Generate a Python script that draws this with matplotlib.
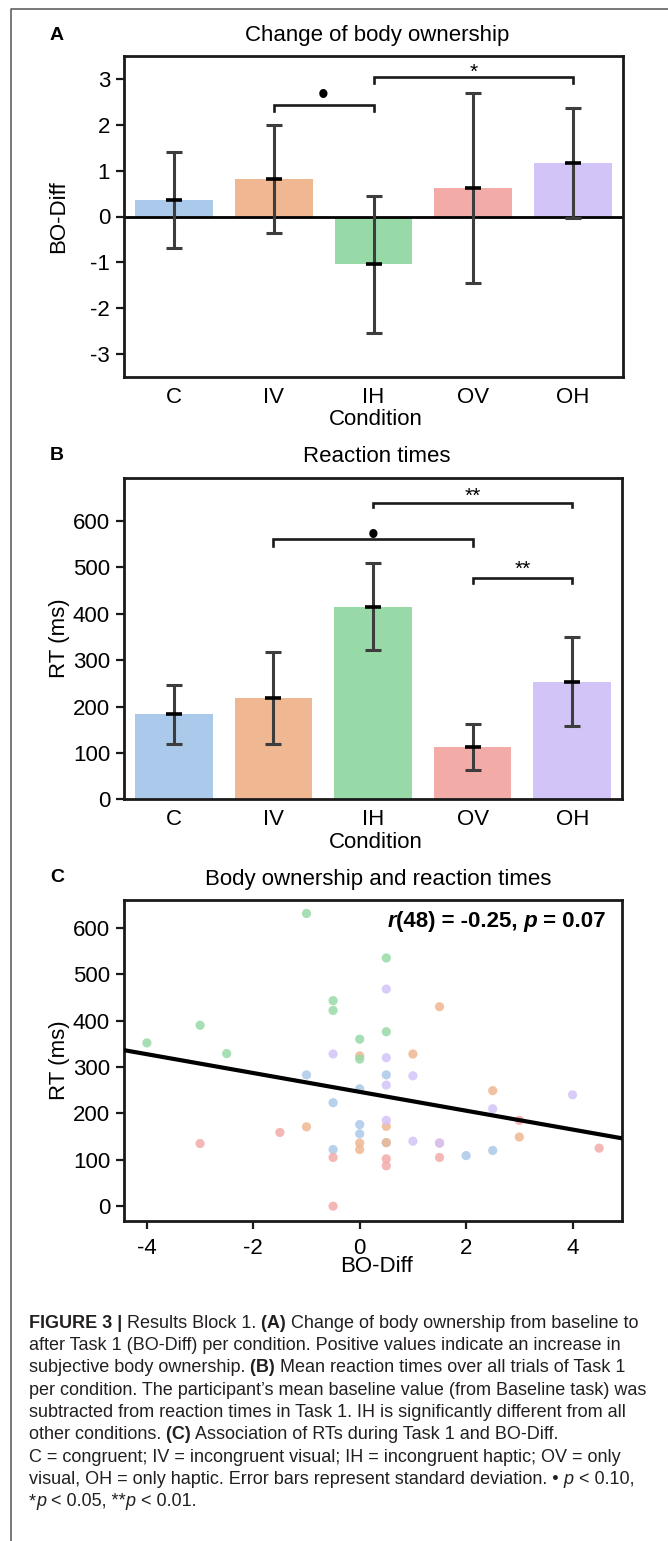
import numpy as np
import matplotlib
matplotlib.use('Agg')
import matplotlib.pyplot as plt
from matplotlib.lines import Line2D
from matplotlib.transforms import offset_copy
import colorsys

W, H, DPI = 668, 1541, 100
FAM = ['Liberation Sans', 'DejaVu Sans']
plt.rcParams['font.family'] = FAM
plt.rcParams['axes.unicode_minus'] = False

# ---------------- data ----------------
conditions = ['C', 'IV', 'IH', 'OV', 'OH']
bo_mean = [0.36, 0.81, -1.04, 0.62, 1.16]
bo_sd = [1.04, 1.18, 1.49, 2.06, 1.20]
rt_mean = [183, 219, 415, 113, 254]
rt_sd = [64, 99, 94, 49, 95]

# significance brackets: (from index, to index, height, leg length, label)
sig_bo = [(1, 2, 2.42, 0.13, '•'), (2, 4, 3.04, 0.13, '*')]
sig_rt = [(2, 4, 640, 9.5, '**'), (1, 3, 562, 16, '•'), (3, 4, 477, 10, '**')]
# vertical offset (pixels) of the label above its bracket
sig_bo_off = [12.5, 11.5]
sig_rt_off = [13.0, 5.5, 15.0]

# scatter (BO-Diff, RT) per condition
sc_C_bo = [-1, -0.5, -0.5, 0, 0, 0, 0.5, 0.5, 2, 2.5]
sc_C_rt = [283, 223, 122, 253, 176, 156, 283, 137, 109, 120]
sc_IV_bo = [-1, 0, 0, 0, 0.5, 0.5, 1, 1.5, 2.5, 3]
sc_IV_rt = [171, 324, 136, 122, 172, 137, 328, 430, 249, 149]
sc_IH_bo = [-4, -3, -2.5, -1, -0.5, -0.5, 0, 0, 0.5, 0.5]
sc_IH_rt = [352, 390, 329, 631, 443, 422, 360, 317, 535, 376]
sc_OV_bo = [-3, -1.5, -0.5, -0.5, 0.5, 0.5, 1.5, 1.5, 3, 4.5]
sc_OV_rt = [135, 159, 105, 0, 102, 87, 105, 136, 185, 125]
sc_OH_bo = [-0.5, 0.5, 0.5, 0.5, 0.5, 1, 1, 1.5, 2.5, 4]
sc_OH_rt = [328, 468, 320, 261, 185, 281, 140, 136, 210, 240]
corr_text = [('r', 'bold', 'italic'), ('(48) = -0.25,', 'bold', 'normal'),
             (' p', 'bold', 'italic'), (' = 0.07', 'bold', 'normal')]

pastel = ['#a1c9f4', '#ffb482', '#8de5a1', '#ff9f9b', '#d0bbff']


def desat(hexc, prop=0.75):
    r, g, b = matplotlib.colors.to_rgb(hexc)
    h, l, s = colorsys.rgb_to_hls(r, g, b)
    return colorsys.hls_to_rgb(h, l, s * prop)


cols = [desat(c) for c in pastel]

fig = plt.figure(figsize=(W / DPI, H / DPI), dpi=DPI)
renderer = fig.canvas.get_renderer()


def fx(x):
    return x / W


def fy(y):
    return 1 - y / H


def ptext(x, y, s, **kw):
    return fig.text(fx(x), fy(y), s, **kw)


def add_axes(l, r, t, b):
    return fig.add_axes([fx(l), fy(b), (r - l) / W, (b - t) / H])


def run_width(s, size, weight, style):
    kw = dict(fontsize=size, fontweight=weight, fontstyle=style, family=FAM)
    t1 = fig.text(0, 0, 'H' + s + 'H', **kw)
    t2 = fig.text(0, 0, 'HH', **kw)
    w = t1.get_window_extent(renderer).width - t2.get_window_extent(renderer).width
    t1.remove(); t2.remove()
    return w


def draw_runs(x, y, runs, size, ha='left', color='black'):
    widths = [run_width(s, size, w, st) for s, w, st in runs]
    x0 = x - sum(widths) if ha == 'right' else x
    for (s, w, st), wd in zip(runs, widths):
        ptext(x0, y, s, fontsize=size, fontweight=w, fontstyle=st,
              ha='left', va='baseline', color=color)
        x0 += wd


SPINE_LW = 2.0
FS = 16


def style_axes(ax):
    for sp in ax.spines.values():
        sp.set_linewidth(SPINE_LW)
        sp.set_color('#1a1a1a')
    ax.tick_params(axis='y', length=6, width=1.6, pad=4, labelsize=FS, color='#1a1a1a')
    ax.tick_params(axis='x', labelsize=FS)


def bar_panel(ax, means, sds, sigs, offs):
    x = np.arange(len(conditions))
    ax.bar(x, means, width=0.78, color=cols, zorder=1)
    ax.errorbar(x, means, yerr=sds, fmt='none', ecolor='#3d3d3d',
                elinewidth=2.2, capsize=6, capthick=2.2, zorder=3)
    ax.plot(x, means, ls='none', marker='_', ms=12, mew=2.6, color='black', zorder=4)
    for (i, j, h, leg, lab), off in zip(sigs, offs):
        ax.plot([i, i, j, j], [h - leg, h, h, h - leg], color='#1a1a1a', lw=1.9,
                solid_joinstyle='miter', zorder=4)
        if lab == '•':
            tr = offset_copy(ax.transData, fig=fig, x=0, y=off - 3.0, units='dots')
            ax.text((i + j) / 2, h, lab, ha='center', va='center',
                    fontsize=22, color='black', transform=tr)
        else:
            tr = offset_copy(ax.transData, fig=fig, x=0, y=off - 12.0, units='dots')
            ax.text((i + j) / 2, h, lab, ha='center', va='baseline',
                    fontsize=15, color='black', transform=tr)
    ax.set_xlim(-0.5, len(conditions) - 0.5)
    ax.set_xticks(x)
    ax.set_xticklabels(conditions)
    ax.tick_params(axis='x', length=0, pad=7)
    style_axes(ax)


# ---------------- panel A ----------------
axA = add_axes(124, 623, 55.7, 377.3)
axA.set_ylim(-3.5, 3.5)
bar_panel(axA, bo_mean, bo_sd, sig_bo, sig_bo_off)
axA.axhline(0, color='black', lw=2.0, zorder=2)
axA.set_yticks([-3, -2, -1, 0, 1, 2, 3])

# ---------------- panel B ----------------
axB = add_axes(124, 622, 478, 799.3)
axB.set_ylim(0, 693)
bar_panel(axB, rt_mean, rt_sd, sig_rt, sig_rt_off)
axB.set_yticks(range(0, 601, 100))

# ---------------- panel C ----------------
axC = add_axes(124, 622, 900, 1221)
groups = [(sc_C_bo, sc_C_rt), (sc_IV_bo, sc_IV_rt), (sc_IH_bo, sc_IH_rt),
          (sc_OV_bo, sc_OV_rt), (sc_OH_bo, sc_OH_rt)]
for (bx, ry), c in zip(groups, cols):
    axC.scatter(bx, ry, s=44, color=c, alpha=0.85, edgecolors='none', zorder=2)
all_x = np.concatenate([g[0] for g in groups])
all_y = np.concatenate([g[1] for g in groups])
slope, icpt = np.polyfit(all_x, all_y, 1)
xlim = (-4.43, 4.93)
xx = np.array(xlim)
axC.plot(xx, icpt + slope * xx, color='black', lw=3.0, zorder=3)
axC.set_xlim(*xlim)
axC.set_ylim(-32, 660)
axC.set_xticks([-4, -2, 0, 2, 4])
axC.set_yticks(range(0, 601, 100))
style_axes(axC)
axC.tick_params(axis='x', length=6, width=1.6, pad=6, color='#1a1a1a')

# ---------------- titles, labels ----------------
ptext(57, 35, 'A', fontsize=14, fontweight='bold', ha='center', va='center')
ptext(57, 456, 'B', fontsize=14, fontweight='bold', ha='center', va='center')
ptext(57, 878, 'C', fontsize=14, fontweight='bold', ha='center', va='center')
ptext(377, 35, 'Change of body ownership', fontsize=FS, ha='center', va='center')
ptext(377, 457, 'Reaction times', fontsize=FS, ha='center', va='center')
ptext(378, 879, 'Body ownership and reaction times', fontsize=FS, ha='center', va='center')
ptext(376, 420, 'Condition', fontsize=FS, ha='center', va='center')
ptext(376, 843, 'Condition', fontsize=FS, ha='center', va='center')
ptext(376, 1267, 'BO-Diff', fontsize=FS, ha='center', va='center')
ptext(59, 216.5, 'BO-Diff', fontsize=FS, ha='center', va='center', rotation=90)
ptext(59, 638.5, 'RT (ms)', fontsize=FS, ha='center', va='center', rotation=90)
ptext(59, 1060, 'RT (ms)', fontsize=FS, ha='center', va='center', rotation=90)

draw_runs(606, 927, corr_text, FS, ha='right')

# ---------------- caption ----------------
N, B, I = ('normal', 'normal'), ('bold', 'normal'), ('normal', 'italic')
caption = [
    [('FIGURE 3 |',) + B, (' Results Block 1.',) + N, (' (A)',) + B,
     (' Change of body ownership from baseline to',) + N],
    [('after Task 1 (BO-Diff) per condition. Positive values indicate an increase in',) + N],
    [('subjective body ownership.',) + N, (' (B)',) + B,
     (' Mean reaction times over all trials of Task 1',) + N],
    [('per condition. The participant\u2019s mean baseline value (from Baseline task) was',) + N],
    [('subtracted from reaction times in Task 1. IH is significantly different from all',) + N],
    [('other conditions.',) + N, (' (C)',) + B,
     (' Association of RTs during Task 1 and BO-Diff.',) + N],
    [('C = congruent; IV = incongruent visual; IH = incongruent haptic; OV = only',) + N],
    [('visual, OH = only haptic. Error bars represent standard deviation. \u2022',) + N,
     (' p',) + I, (' < 0.10,',) + N],
    [('*',) + N, ('p',) + I, (' < 0.05, **',) + N, ('p',) + I, (' < 0.01.',) + N],
]
base = 10.0
w1 = sum(run_width(s, base, w, st) for s, w, st in caption[0])
cap_size = base * 612.0 / w1
for k, line in enumerate(caption):
    draw_runs(29, 1328 + 22.25 * k, line, cap_size, color='#231f20')

# figure frame (left and top edges)
fig.add_artist(Line2D([fx(11), fx(11), 1.0], [0.0, fy(9), fy(9)],
                      transform=fig.transFigure, color='#555555', lw=1.1))

fig.savefig('out.png', dpi=DPI)
